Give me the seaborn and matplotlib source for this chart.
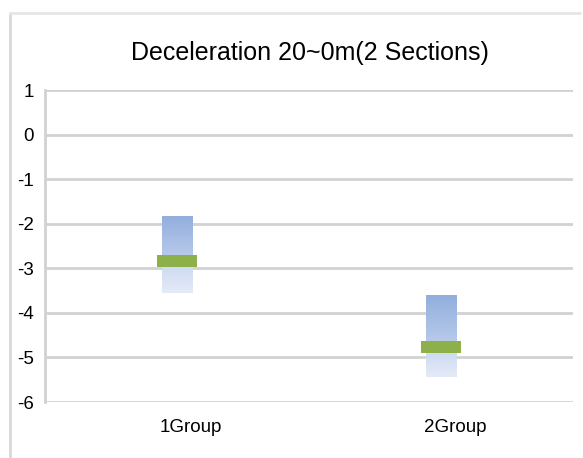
import numpy as np
import pandas as pd
import matplotlib
matplotlib.use("Agg")
import matplotlib.pyplot as plt
import matplotlib.transforms as mtransforms
from matplotlib.lines import Line2D
from matplotlib.colors import LinearSegmentedColormap
import seaborn as sns

# ---- data ----
groups = ["1Group", "2Group"]
top_vals = [-1.82, -3.61]
median_vals = [-2.83, -4.77]
bottom_vals = [-3.56, -5.44]
title_text = "Deceleration 20~0m(2 Sections)"
y_ticks = [1, 0, -1, -2, -3, -4, -5, -6]

sns.set_theme(style="white")
plt.rcParams["font.family"] = ["Liberation Sans", "DejaVu Sans"]

fig = plt.figure(figsize=(5.83, 4.58), dpi=100)
ax = fig.add_axes([45 / 583, 1 - 402 / 458, (573 - 45) / 583, (402 - 90) / 458])

upper = pd.DataFrame({"group": groups,
                      "h": np.array(median_vals) - np.array(top_vals),
                      "b": top_vals})
lower = pd.DataFrame({"group": groups,
                      "h": np.array(bottom_vals) - np.array(median_vals),
                      "b": median_vals})

sns.barplot(data=upper, x="group", y="h", bottom=upper["b"], width=0.115,
            color="#a8bfe6", ax=ax, zorder=2, linewidth=0)
n_upper = len(ax.patches)
sns.barplot(data=lower, x="group", y="h", bottom=lower["b"], width=0.115,
            color="#d8e2f4", ax=ax, zorder=2, linewidth=0)

# gradient fill for each range segment
cm_up = LinearSegmentedColormap.from_list("up", ["#92aedd", "#bccdec"])
cm_lo = LinearSegmentedColormap.from_list("lo", ["#c9d7f0", "#e4ebf8"])
grad = np.linspace(0, 1, 256).reshape(-1, 1)
for i, p in enumerate(list(ax.patches)):
    x0, y0 = p.get_x(), p.get_y()
    w, h = p.get_width(), p.get_height()
    ylo, yhi = min(y0, y0 + h), max(y0, y0 + h)
    cmap = cm_up if i < n_upper else cm_lo
    im = ax.imshow(grad, aspect="auto", cmap=cmap, origin="upper",
                   extent=[x0, x0 + w, ylo, yhi], zorder=2)
    im.set_clip_path(p)
    p.set_facecolor("none")
    p.set_edgecolor("none")

# medians
med = pd.DataFrame({"group": groups, "h": [0.27, 0.27],
                    "b": np.array(median_vals) - 0.135})
sns.barplot(data=med, x="group", y="h", bottom=med["b"], width=0.155,
            color="#8db04b", ax=ax, zorder=3, saturation=1,
            linewidth=0, edgecolor="none")

ax.set_ylim(-6, 1)
ax.set_xlim(-0.5, 1.5)
ax.set_yticks(y_ticks)
ax.set_yticklabels([str(t) for t in y_ticks])
ax.set_xlabel("")
ax.set_ylabel("")
ax.yaxis.grid(True, color="#d2d2d2", linewidth=2, zorder=0)
ax.set_axisbelow(True)
for s in ["top", "right", "bottom"]:
    ax.spines[s].set_visible(False)
ax.spines["left"].set_color("#d2d2d2")
ax.spines["left"].set_linewidth(2)
ax.tick_params(axis="both", length=0, labelsize=13.5, colors="black")
ax.tick_params(axis="y", pad=8)
ax.tick_params(axis="x", pad=12)
offset = mtransforms.ScaledTranslation(14 / 100, 0, fig.dpi_scale_trans)
for lbl in ax.get_xticklabels():
    lbl.set_transform(lbl.get_transform() + offset)

fig.text(310 / 583, 1 - 53 / 458, title_text, ha="center", va="center",
         fontsize=18, color="black")

# outer frame lines (left and top)
fig.add_artist(Line2D([10 / 583, 10 / 583], [0, 1 - 13 / 458],
                      transform=fig.transFigure, color="#d8d8d8", linewidth=2))
fig.add_artist(Line2D([10 / 583, 580 / 583], [1 - 13 / 458, 1 - 13 / 458],
                      transform=fig.transFigure, color="#e6e6e6", linewidth=2))

fig.savefig("out.png", dpi=100)
